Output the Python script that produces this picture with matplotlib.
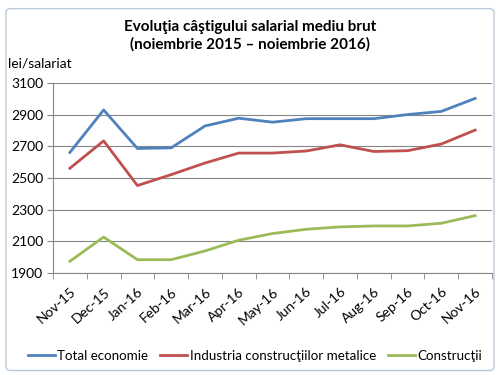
import matplotlib.pyplot as plt
import numpy as np
from matplotlib.patches import FancyBboxPatch

plt.rcParams["font.family"] = ["Lato", "DejaVu Sans"]

# Data
months = ["Nov-15", "Dec-15", "Jan-16", "Feb-16", "Mar-16", "Apr-16", "May-16",
          "Jun-16", "Jul-16", "Aug-16", "Sep-16", "Oct-16", "Nov-16"]
total_economie = [2661, 2929, 2686, 2690, 2828, 2877, 2852, 2874, 2874, 2874, 2900, 2920, 3002]
industria_metalice = [2561, 2734, 2452, 2521, 2594, 2657, 2657, 2670, 2709, 2667, 2672, 2714, 2802]
constructii = [1974, 2127, 1984, 1984, 2039, 2107, 2149, 2176, 2191, 2197, 2197, 2214, 2262]
yticks = [1900, 2100, 2300, 2500, 2700, 2900, 3100]

fig = plt.figure(figsize=(5, 3.75), dpi=100)

# chart frame
frame = FancyBboxPatch((0.012, 0.012), 0.976, 0.965, boxstyle="round,pad=0,rounding_size=0.01",
                       transform=fig.transFigure, facecolor="white", edgecolor="#b9c9da",
                       linewidth=1.0, zorder=-10)
fig.patches.append(frame)

ax = fig.add_axes([0.106, 0.272, 0.878, 0.507])
x = np.arange(len(months))

ax.plot(x, total_economie, color="#4F81BD", linewidth=2.0, label="Total economie")
ax.plot(x, industria_metalice, color="#C0504D", linewidth=2.0, label="Industria construcţiilor metalice")
ax.plot(x, constructii, color="#9BBB59", linewidth=2.0, label="Construcţii")

ax.set_xlim(-0.5, len(months) - 0.5)
ax.set_ylim(1900, 3100)
ax.set_yticks(yticks)
ax.tick_params(axis="y", labelsize=10, length=4, color="#868686", pad=3)
ax.set_xticks(x)
ax.set_xticklabels(months, rotation=42, ha="right", rotation_mode="anchor", fontsize=10)
ax.tick_params(axis="x", length=0, pad=9)
ax.set_xticks(np.arange(-0.5, len(months) + 0.5, 1), minor=True)
ax.tick_params(axis="x", which="minor", length=4, color="#868686")

ax.grid(axis="y", color="#868686", linewidth=0.8)
ax.set_axisbelow(True)
for side in ["top", "right"]:
    ax.spines[side].set_visible(False)
for side in ["left", "bottom"]:
    ax.spines[side].set_color("#868686")

fig.text(0.5, 0.905, "Evoluţia câştigului salarial mediu brut\n(noiembrie 2015 – noiembrie 2016)",
         ha="center", va="center", fontsize=11, fontweight="bold", linespacing=1.3)
fig.text(0.016, 0.832, "lei/salariat", ha="left", va="center", fontsize=10)

fig.legend(loc="center", bbox_to_anchor=(0.51, 0.052), ncol=3, frameon=False, fontsize=9.6,
           handlelength=2.0, handletextpad=0.2, columnspacing=0.9, borderpad=0, borderaxespad=0)

fig.savefig("out.png", dpi=100)
